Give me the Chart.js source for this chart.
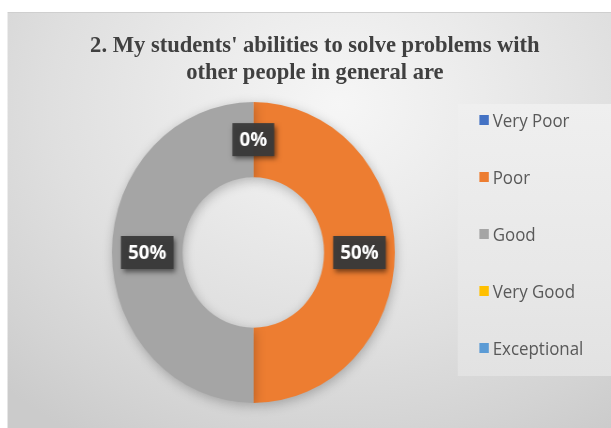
<!DOCTYPE html>
<html>
<head>
<meta charset="utf-8">
<script src="https://cdn.jsdelivr.net/npm/chart.js@4.4.1/dist/chart.umd.min.js"></script>
<style>
  html, body { margin: 0; padding: 0; background: #fff; width: 611px; height: 428px; overflow: hidden; }
  /* the whole card is laid out 650px wide and squeezed to fit the window */
  #stage { position: absolute; left: 0; top: 0; width: 650px; height: 428px; transform: scaleX(0.94); transform-origin: 0 0; }
  #panel {
    position: absolute; left: 7.5px; top: 12px; right: 0; bottom: 0;
    border-top: 1px solid #cfcfcf;
    background: radial-gradient(ellipse 80% 95% at 55% 22%, #f6f6f6 0%, #ebebeb 30%, #dfdfdf 60%, #d3d3d3 85%, #cbcbcb 100%);
  }
  #title {
    position: absolute; left: 20px; width: 630px; top: 31px; text-align: center;
    font: bold 24px/27px "Liberation Serif", "Times New Roman", serif; color: #404040;
  }
  #legend-box {
    position: absolute; left: 487px; top: 104px; width: 163px; height: 272px;
    background: linear-gradient(180deg, #efefef 0%, #e8e8e8 60%, #e2e2e2 100%);
  }
  #legend {
    position: absolute; left: 509.5px; top: 91px; margin: 0; padding: 0; list-style: none;
    font: 18px "Open Sans", sans-serif; color: #595959;
  }
  #legend li { height: 57px; display: flex; align-items: center; white-space: nowrap; }
  #legend .sw { width: 10.6px; height: 10px; margin-right: 4px; flex: none; }
  #wrap { position: absolute; left: 98.5px; top: 82px; width: 341px; height: 341px; }
</style>
</head>
<body>
<div id="stage">
  <div id="panel"></div>
  <div id="title">2. My students' abilities to solve problems with<br>other people in general are</div>
  <div id="legend-box"></div>
  <ul id="legend"></ul>
  <div id="wrap"><canvas id="chart" width="341" height="341"></canvas></div>
</div>
<script>
const categories = ['Very Poor', 'Poor', 'Good', 'Very Good', 'Exceptional'];
const shares = [0, 50, 50, 0, 0];
const sliceColors = ['#4472C4', '#ED7D31', '#A5A5A5', '#FFC000', '#5B9BD5'];

// soft drop shadow under the ring
const ringShadow = {
  id: 'ringShadow',
  beforeDatasetsDraw(chart) {
    const ctx = chart.ctx;
    ctx.save();
    ctx.shadowColor = 'rgba(0, 0, 0, 0.25)';
    ctx.shadowBlur = 12;
    ctx.shadowOffsetX = 1;
    ctx.shadowOffsetY = 3;
  },
  afterDatasetsDraw(chart) {
    chart.ctx.restore();
  },
};

// dark percentage callouts in the middle of each slice
const sliceLabels = {
  id: 'sliceLabels',
  afterDatasetsDraw(chart) {
    const ctx = chart.ctx;
    const meta = chart.getDatasetMeta(0);
    const values = chart.data.datasets[0].data;
    const total = values.reduce((a, b) => a + b, 0);
    const seen = [];
    ctx.save();
    ctx.font = 'bold 20px "Open Sans", sans-serif';
    ctx.textAlign = 'center';
    ctx.textBaseline = 'middle';
    meta.data.forEach((arc, i) => {
      const { x, y } = arc.tooltipPosition();
      if (seen.some((p) => Math.abs(p.x - x) < 1 && Math.abs(p.y - y) < 1)) return;
      seen.push({ x, y });
      const text = `${Math.round((values[i] / total) * 100)}%`;
      const w = ctx.measureText(text).width + 15;
      const h = 33;
      ctx.shadowColor = 'rgba(0, 0, 0, 0.55)';
      ctx.shadowBlur = 5;
      ctx.shadowOffsetX = 2;
      ctx.shadowOffsetY = 3;
      ctx.fillStyle = 'rgba(58, 58, 58, 0.95)';
      ctx.fillRect(x - w / 2, y - h / 2, w, h);
      ctx.shadowColor = 'transparent';
      ctx.fillStyle = '#ffffff';
      ctx.fillText(text, x, y + 1);
    });
    ctx.restore();
  },
};

const chart = new Chart(document.getElementById('chart'), {
  type: 'doughnut',
  data: {
    labels: categories,
    datasets: [{
      data: shares,
      backgroundColor: sliceColors,
      borderWidth: 0,
      hoverOffset: 0,
    }],
  },
  options: {
    responsive: false,
    animation: false,
    cutout: '50%',
    layout: { padding: 20, autoPadding: false },
    plugins: {
      legend: { display: false },
      tooltip: { enabled: false },
      title: { display: false },
    },
  },
  plugins: [ringShadow, sliceLabels],
});

// legend list built from the chart's own legend items
const list = document.getElementById('legend');
chart.options.plugins.legend.labels.generateLabels(chart).forEach((item) => {
  const li = document.createElement('li');
  const sw = document.createElement('span');
  sw.className = 'sw';
  sw.style.background = item.fillStyle;
  li.appendChild(sw);
  li.appendChild(document.createTextNode(item.text));
  list.appendChild(li);
});
</script>
</body>
</html>
